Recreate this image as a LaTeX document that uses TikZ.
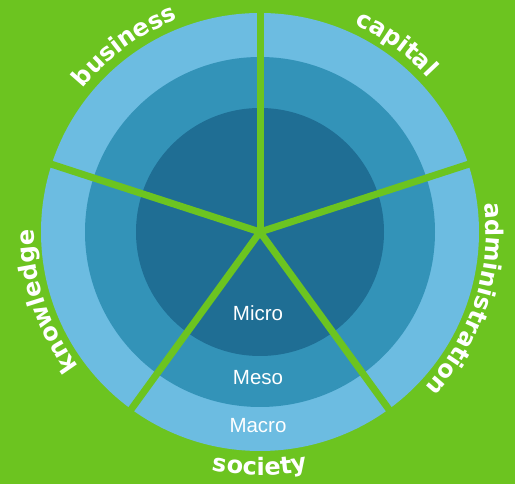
\documentclass[tikz,border=0pt]{standalone}
\usepackage{fontspec}
\setmainfont{Liberation Sans}
\newfontfamily\sectorfont{DejaVu Sans}
\usepackage{xcolor}
\usetikzlibrary{positioning, decorations.text}

\definecolor{fieldgreen}{RGB}{108,196,32}
\definecolor{macroblue}{RGB}{108,188,225}
\definecolor{mesoblue}{RGB}{51,147,184}
\definecolor{microblue}{RGB}{31,110,148}

\begin{document}
\begin{tikzpicture}[x=1pt, y=1pt,
    ringlabel/.style={text=white, font=\fontsize{20.5}{22}\selectfont},
    spoke/.style={draw=fieldgreen, line width=7pt},
    sectorlabel/.style={decorate, decoration={text along path, text align=center,
        text color=white, text={|\sectorfont\bfseries\fontsize{24}{26}\selectfont|#1}}},
  ]
  % background and frame
  \fill[fieldgreen] (0,0) rectangle (515,484);
  \useasboundingbox (0,0) rectangle (515,484);
  \coordinate (hub) at (260,252);

  % the three rings
  \fill[macroblue] (hub) circle[radius=219];
  \fill[mesoblue] (hub) circle[radius=175];
  \fill[microblue] (hub) circle[radius=124];

  % five spokes, one every 72 degrees
  \foreach \ang in {90, 18, -54, -126, 162}
    \draw[spoke] (hub) -- ++(\ang:220);

  % ring names
  \node[ringlabel] (micro) at ([xshift=-2,yshift=-81]hub) {Micro};
  \node[ringlabel] (meso) at ([xshift=-2,yshift=-146]hub) {Meso};
  \node[ringlabel] (macro) at ([xshift=-2,yshift=-194]hub) {Macro};

  % sector names round the rim
  \path[sectorlabel=business] (hub) ++(171:228) arc[start angle=171, end angle=81, radius=228];
  \path[sectorlabel=capital] (hub) ++(99:228) arc[start angle=99, end angle=9, radius=228];
  \path[sectorlabel=administration] (hub) ++(27:226) arc[start angle=27, end angle=-63, radius=226];
  \path[sectorlabel=knowledge] (hub) ++(243:226) arc[start angle=243, end angle=153, radius=226];
  \path[sectorlabel=society] (hub) ++(-135:243) arc[start angle=-135, end angle=-45, radius=243];
\end{tikzpicture}
\end{document}
